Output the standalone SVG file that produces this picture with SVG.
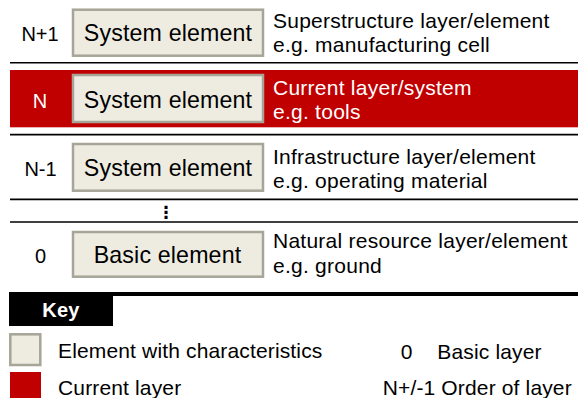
<svg xmlns="http://www.w3.org/2000/svg" width="578" height="398" viewBox="0 0 578 398">
<style>
text{font-family:"Liberation Sans",Arial,sans-serif;fill:#000}
.lbl{font-size:20px;text-anchor:middle}
.box{fill:#EEECE1;stroke:#A6A597;stroke-width:2.5}
.bt{font-size:23.2px;letter-spacing:0.15px;text-anchor:middle}
.rt{font-size:21px;letter-spacing:0.25px}
.kt{font-size:21px;letter-spacing:0.15px}
.w{fill:#fff}
.sep{stroke:#000;stroke-width:1.6}
</style>
<rect width="578" height="398" fill="#fff"/>
<g id="separators">
<line class="sep" x1="10" y1="62.8" x2="578" y2="62.8"/>
<line class="sep" x1="10" y1="134.6" x2="578" y2="134.6"/>
<line class="sep" x1="10" y1="199.4" x2="578" y2="199.4"/>
<line class="sep" x1="10" y1="222" x2="578" y2="222"/>
<rect x="9" y="292" width="569" height="4" fill="#000"/>
</g>
<g id="layer-n-plus-1">
<text class="lbl" x="40" y="40.7">N+1</text>
<rect class="box" x="73" y="9.7" width="190" height="46"/>
<text class="bt" x="168" y="40.7">System element</text>
<text class="rt" x="273" y="28">Superstructure layer/element</text>
<text class="rt" x="273" y="52">e.g. manufacturing cell</text>
</g>
<g id="layer-n">
<rect x="10" y="70" width="568" height="57.3" fill="#C00000"/>
<text class="lbl w" x="40" y="108.3">N</text>
<rect class="box" x="73" y="75" width="190" height="47"/>
<text class="bt" x="168" y="107.7">System element</text>
<text class="rt w" x="273" y="95">Current layer/system</text>
<text class="rt w" x="273" y="119">e.g. tools</text>
</g>
<g id="layer-n-minus-1">
<text class="lbl" x="40.5" y="176">N-1</text>
<rect class="box" x="73" y="144" width="190" height="46.7"/>
<text class="bt" x="168" y="176">System element</text>
<text class="rt" x="273" y="164">Infrastructure layer/element</text>
<text class="rt" x="273" y="188">e.g. operating material</text>
</g>
<g id="ellipsis">
<text x="166" y="218" style="font-family:'DejaVu Sans',sans-serif;font-size:17px;font-weight:bold;text-anchor:middle">⋮</text>
</g>
<g id="layer-0">
<text class="lbl" x="40.5" y="262.7">0</text>
<rect class="box" x="73" y="232" width="190" height="44.7"/>
<text class="bt" x="167.5" y="262.7">Basic element</text>
<text class="rt" x="273" y="248.3">Natural resource layer/element</text>
<text class="rt" x="273" y="272.5">e.g. ground</text>
</g>
<g id="key">
<rect x="9" y="292" width="104" height="34" fill="#000"/>
<text x="61" y="316.7" style="font-size:20px;font-weight:bold;letter-spacing:0.3px;text-anchor:middle;fill:#fff">Key</text>
<rect class="box" x="10.3" y="334.3" width="30" height="30.7"/>
<text class="kt" x="58" y="358">Element with characteristics</text>
<rect x="10" y="372" width="31" height="30" fill="#C00000"/>
<text class="kt" x="58" y="394.5">Current layer</text>
<text class="kt" x="400.7" y="358.5">0</text>
<text class="kt" x="437.3" y="358.5">Basic layer</text>
<text class="kt" x="382.7" y="394.5">N+/-1 Order of layer</text>
</g>
</svg>
